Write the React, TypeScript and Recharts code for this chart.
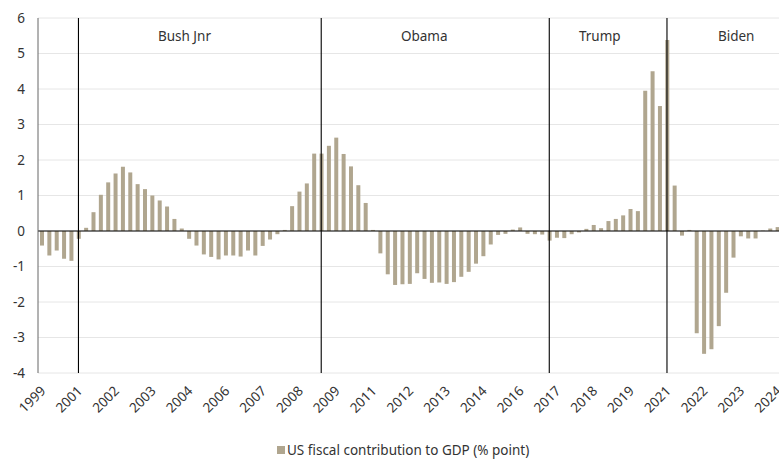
import React from 'react';
import { BarChart, Bar, XAxis, YAxis, CartesianGrid, ReferenceLine, Legend } from 'recharts';

// Quarterly categories: 1999Q4 .. 2024Q4
const startYear = 1999;
const startQuarter = 4;
const quarterCount = 101;
const quarters: string[] = [];
for (let i = 0; i < quarterCount; i++) {
  const qi = startQuarter - 1 + i;
  quarters.push(`${startYear + Math.floor(qi / 4)}Q${(qi % 4) + 1}`);
}

const fiscalContribution = [
  -0.41, -0.69, -0.55, -0.78, -0.84, -0.22, 0.09, 0.53, 1.02, 1.37,
  1.62, 1.81, 1.65, 1.32, 1.18, 1.0, 0.86, 0.69, 0.34, 0.07,
  -0.22, -0.41, -0.66, -0.73, -0.8, -0.69, -0.69, -0.72, -0.55, -0.69,
  -0.42, -0.24, -0.09, 0.03, 0.7, 1.11, 1.34, 2.18, 2.18, 2.4,
  2.63, 2.17, 1.82, 1.29, 0.79, 0.03, -0.63, -1.22, -1.52, -1.5,
  -1.49, -1.19, -1.35, -1.46, -1.45, -1.49, -1.44, -1.29, -1.15, -0.92,
  -0.71, -0.38, -0.11, -0.08, 0.04, 0.1, -0.08, -0.09, -0.1, -0.27,
  -0.19, -0.2, -0.09, -0.04, 0.06, 0.17, 0.08, 0.28, 0.34, 0.44,
  0.62, 0.56, 3.95, 4.5, 3.52, 5.38, 1.28, -0.13, 0.03, -2.88,
  -3.46, -3.33, -2.68, -1.74, -0.75, -0.15, -0.21, -0.21, 0.01, 0.07,
  0.11,
];

const yTicks = [-4, -3, -2, -1, 0, 1, 2, 3, 4, 5, 6];

// Presidential term starts (category) and label anchor categories
const termStarts = ['2001Q1', '2009Q2', '2017Q1', '2021Q1'];
const termNames = ['Bush Jnr', 'Obama', 'Trump', 'Biden'];
const termLabelAt = ['2004Q3', '2012Q4', '2018Q4', '2023Q2'];
const termLabelDx = [3, 0, -1, 3];

const seriesName = 'US fiscal contribution to GDP (% point)';
const BAR_COLOR = '#b0a68f';
const FONT = 13.5;

const data = quarters.map((q, i) => ({ q, v: fiscalContribution[i] }));

export default function App() {
  return (
    <div
      style={{
        position: 'absolute',
        left: 0,
        top: 0,
        width: 779,
        height: 459,
        overflow: 'hidden',
        fontFamily: '"Noto Sans", sans-serif',
        background: '#fff',
      }}
    >
      <BarChart
        width={781}
        height={459}
        data={data}
        margin={{ top: 18, right: 0, left: 0, bottom: 0 }}
        barCategoryGap={0}
      >
        <CartesianGrid horizontal vertical={false} stroke="#e6e6e6" />
        <XAxis
          dataKey="q"
          interval={4}
          tickFormatter={(q: string) => q.slice(0, 4)}
          angle={-45}
          textAnchor="end"
          tickLine={false}
          axisLine={false}
          tickSize={0}
          tickMargin={12}
          height={60}
          tick={{ fill: '#333', fontSize: FONT, dx: -2 }}
        />
        <YAxis
          type="number"
          domain={[-4, 6]}
          ticks={yTicks}
          interval={0}
          width={38}
          tickLine={false}
          tickSize={0}
          tickMargin={13}
          axisLine={{ stroke: '#666' }}
          tick={{ fill: '#333', fontSize: FONT }}
        />
        <Bar dataKey="v" name={seriesName} fill={BAR_COLOR} barSize={4} isAnimationActive={false} />
        <ReferenceLine y={0} stroke="#000" strokeWidth={1.2} />
        {termStarts.map((t) => (
          <ReferenceLine key={t} x={t} stroke="#000" strokeWidth={1.1} />
        ))}
        {termNames.map((n, i) => (
          <ReferenceLine
            key={n}
            x={termLabelAt[i]}
            stroke="none"
            label={{ value: n, position: 'insideTop', offset: 13, dx: termLabelDx[i], fill: '#333', fontSize: FONT }}
          />
        ))}
        <Legend
          verticalAlign="bottom"
          align="left"
          wrapperStyle={{ left: 277, bottom: 0, width: 340, height: 26 }}
          content={() => (
            <div
              style={{
                display: 'flex',
                alignItems: 'center',
                height: 18,
                marginTop: 8,
                lineHeight: '18px',
                fontSize: FONT,
                color: '#333',
                fontFamily: '"Noto Sans", sans-serif',
                whiteSpace: 'nowrap',
              }}
            >
              <span style={{ display: 'inline-block', width: 8, height: 8, background: BAR_COLOR, marginRight: 2 }} />
              {seriesName}
            </div>
          )}
        />
      </BarChart>
    </div>
  );
}
